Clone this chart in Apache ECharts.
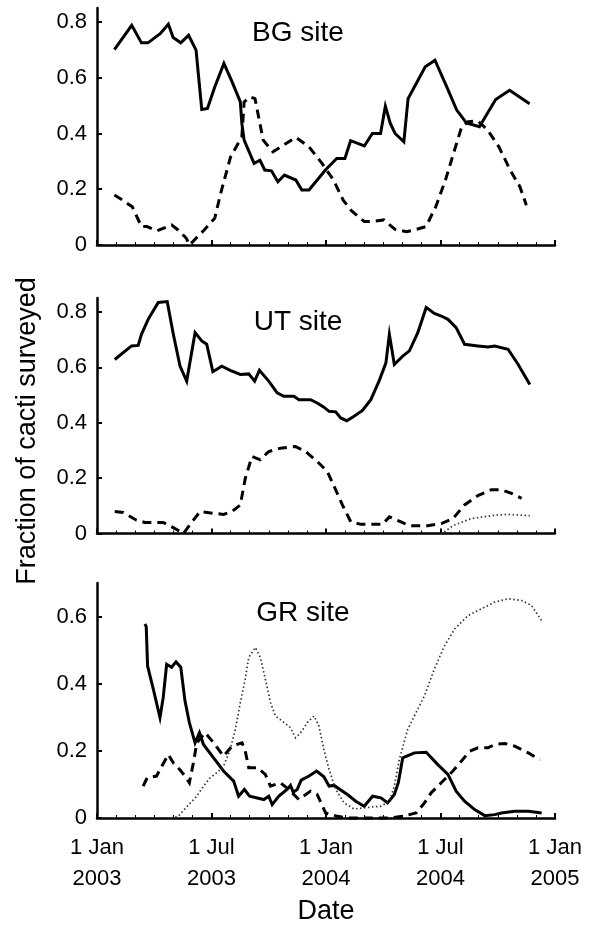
<!DOCTYPE html>
<html>
<head>
<meta charset="utf-8">
<script src="https://cdn.jsdelivr.net/npm/echarts@6/dist/echarts.min.js"></script>
<style>
html,body{margin:0;padding:0;background:#fff;}
#chart{width:600px;height:926px;}
</style>
</head>
<body>
<div id="chart"></div>
<script>
// x = months since 1 Jan 2003, y = fraction of cacti surveyed
const xTickLabels = ['1 Jan\n2003','1 Jul\n2003','1 Jan\n2004','1 Jul\n2004','1 Jan\n2005'];
const yTicksTop = [0, 0.2, 0.4, 0.6, 0.8];
const yTicksGR = [0, 0.2, 0.4, 0.6];
const siteNames = ['BG site', 'UT site', 'GR site'];

const bgSolid = [[0.91,0.701],[1.82,0.788],[2.33,0.725],[2.67,0.725],[3.31,0.758],[3.74,0.792],[3.99,0.744],[4.39,0.725],[4.80,0.752],[5.19,0.699],[5.49,0.486],[5.79,0.490],[6.17,0.567],[6.65,0.651],[7.08,0.585],[7.51,0.513],[7.59,0.436],[7.71,0.376],[8.23,0.293],[8.54,0.304],[8.79,0.269],[9.14,0.266],[9.48,0.227],[9.82,0.251],[10.42,0.233],[10.73,0.197],[11.11,0.197],[11.97,0.269],[12.56,0.310],[12.99,0.310],[13.29,0.374],[14.01,0.355],[14.43,0.400],[14.86,0.400],[15.11,0.498],[15.37,0.436],[15.62,0.400],[16.08,0.370],[16.30,0.525],[16.73,0.579],[17.20,0.639],[17.71,0.663],[18.34,0.565],[18.85,0.484],[19.36,0.438],[20.04,0.424],[20.89,0.522],[21.62,0.555],[22.67,0.507]];
const bgDashed = [[0.91,0.179],[1.34,0.161],[1.85,0.137],[2.33,0.066],[2.62,0.066],[3.14,0.051],[3.91,0.072],[4.25,0.054],[4.68,0.024],[4.85,0.0],[5.19,0.024],[5.62,0.054],[6.17,0.096],[6.48,0.185],[7.0,0.316],[7.59,0.388],[7.71,0.513],[8.02,0.531],[8.28,0.525],[8.71,0.376],[9.22,0.334],[10.42,0.386],[11.11,0.352],[11.79,0.293],[12.39,0.233],[12.90,0.161],[13.33,0.123],[14.01,0.084],[14.35,0.084],[15.03,0.090],[15.62,0.056],[16.22,0.048],[16.64,0.054],[17.24,0.066],[17.75,0.137],[18.26,0.233],[18.68,0.328],[19.11,0.424],[19.45,0.442],[19.96,0.445],[20.47,0.412],[21.06,0.352],[21.65,0.269],[22.16,0.209],[22.50,0.143]];

const utSolid = [[0.93,0.628],[1.81,0.677],[2.16,0.679],[2.33,0.719],[2.68,0.773],[3.21,0.834],[3.68,0.837],[4.0,0.719],[4.35,0.604],[4.70,0.550],[5.14,0.725],[5.49,0.695],[5.75,0.683],[6.07,0.584],[6.54,0.604],[6.98,0.589],[7.51,0.574],[7.95,0.576],[8.26,0.550],[8.51,0.589],[9.0,0.550],[9.44,0.508],[9.79,0.495],[10.32,0.495],[10.58,0.483],[11.19,0.483],[11.54,0.471],[11.89,0.456],[12.16,0.441],[12.51,0.439],[12.77,0.417],[13.09,0.407],[13.47,0.423],[13.91,0.444],[14.35,0.483],[14.79,0.552],[15.14,0.616],[15.32,0.719],[15.58,0.610],[16.02,0.640],[16.37,0.659],[16.81,0.725],[17.25,0.816],[17.68,0.794],[18.04,0.785],[18.39,0.773],[18.82,0.743],[19.26,0.683],[19.96,0.677],[20.49,0.673],[20.84,0.677],[21.54,0.665],[22.07,0.610],[22.68,0.538]];
const utDashed = [[0.93,0.079],[1.37,0.076],[2.07,0.048],[2.51,0.040],[3.04,0.040],[3.47,0.040],[4.0,0.021],[4.53,0.0],[5.05,0.048],[5.40,0.079],[6.11,0.073],[6.63,0.069],[7.07,0.079],[7.51,0.103],[7.77,0.199],[8.12,0.278],[8.56,0.266],[9.0,0.296],[9.61,0.308],[10.40,0.314],[10.93,0.296],[11.54,0.260],[12.07,0.224],[12.51,0.157],[12.86,0.103],[13.30,0.042],[13.82,0.033],[14.44,0.033],[14.96,0.033],[15.32,0.060],[15.93,0.042],[16.37,0.028],[16.98,0.028],[17.33,0.028],[18.04,0.036],[18.65,0.054],[19.26,0.103],[19.96,0.137],[20.67,0.158],[21.19,0.158],[21.72,0.145],[22.25,0.127]];
const utDotted = [[18.0,0.0],[18.2,0.006],[18.65,0.028],[19.61,0.054],[20.84,0.066],[21.54,0.069],[22.68,0.064]];

const grSolid = [[2.51,0.578],[2.58,0.570],[2.65,0.453],[2.95,0.384],[3.30,0.299],[3.47,0.359],[3.65,0.458],[3.91,0.449],[4.14,0.465],[4.39,0.449],[4.61,0.349],[4.84,0.284],[5.14,0.224],[5.37,0.254],[5.58,0.219],[6.11,0.179],[6.63,0.140],[7.16,0.110],[7.42,0.065],[7.72,0.085],[8.0,0.065],[8.74,0.055],[9.0,0.065],[9.18,0.040],[9.53,0.065],[9.96,0.085],[10.14,0.097],[10.28,0.077],[10.49,0.085],[10.70,0.113],[11.11,0.125],[11.51,0.140],[11.89,0.123],[12.16,0.095],[12.42,0.097],[13.12,0.070],[13.56,0.050],[14.0,0.035],[14.44,0.065],[14.88,0.060],[15.23,0.045],[15.58,0.070],[15.79,0.105],[16.02,0.179],[16.63,0.194],[17.25,0.196],[17.86,0.159],[18.39,0.130],[18.82,0.080],[19.26,0.050],[19.79,0.025],[20.32,0.007],[20.84,0.010],[21.19,0.015],[21.89,0.020],[22.60,0.020],[23.30,0.015]];
const grDashed = [[2.42,0.095],[2.63,0.120],[3.12,0.125],[3.39,0.154],[3.74,0.189],[4.0,0.164],[4.32,0.145],[4.61,0.125],[4.84,0.105],[5.05,0.164],[5.23,0.224],[5.67,0.254],[6.11,0.224],[6.63,0.184],[7.07,0.214],[7.60,0.224],[7.77,0.199],[7.95,0.150],[8.39,0.150],[8.82,0.130],[9.09,0.095],[9.61,0.105],[10.05,0.085],[10.58,0.055],[11.19,0.080],[11.54,0.070],[11.98,0.015],[12.60,0.005],[13.12,0.0],[14.53,0.0],[15.40,0.0],[16.02,0.005],[16.72,0.015],[17.16,0.045],[17.51,0.075],[18.04,0.105],[18.65,0.140],[19.09,0.169],[19.53,0.199],[19.96,0.209],[20.49,0.209],[20.84,0.219],[21.37,0.222],[21.89,0.214],[22.60,0.194],[23.21,0.174]];
const grDotted = [[3.9,0.0],[4.26,0.005],[4.70,0.033],[5.23,0.065],[5.58,0.095],[5.93,0.120],[6.28,0.135],[6.63,0.154],[6.98,0.204],[7.25,0.264],[7.51,0.344],[7.77,0.414],[7.95,0.478],[8.30,0.508],[8.56,0.478],[8.82,0.414],[9.09,0.344],[9.35,0.304],[9.70,0.289],[10.14,0.269],[10.40,0.239],[10.67,0.254],[11.02,0.284],[11.37,0.304],[11.63,0.274],[11.89,0.204],[12.16,0.145],[12.51,0.085],[12.95,0.045],[13.47,0.027],[14.0,0.030],[14.44,0.033],[14.88,0.035],[15.32,0.050],[15.58,0.095],[15.84,0.174],[16.28,0.264],[16.72,0.314],[17.16,0.364],[17.68,0.444],[18.21,0.513],[18.74,0.563],[19.44,0.603],[20.14,0.623],[20.84,0.643],[21.54,0.653],[22.25,0.648],[22.77,0.633],[23.30,0.588]];

const FONT = '"Liberation Sans", Arial, Helvetica, sans-serif';
const chart = echarts.init(document.getElementById('chart'), null, {renderer:'canvas'});

const grids = [
  {left:97, width:458, top:8, height:237},
  {left:97, width:458, top:298, height:235.5},
  {left:97, width:458, top:583, height:235}
];
const yMax = [0.85, 0.85, 0.7];
const yTicks = [yTicksTop, yTicksTop, yTicksGR];

function xAxis(i){
  return {
    gridIndex:i, type:'value', min:0, max:24, interval:6,
    axisLine:{onZero:false, lineStyle:{color:'#000', width:2.5}},
    axisTick:{inside:true, length:5, lineStyle:{color:'#000', width:2}},
    minorTick:{show:true, splitNumber:6, length:3, lineStyle:{color:'#000', width:1}},
    splitLine:{show:false}, minorSplitLine:{show:false},
    axisLabel: i===2 ? {
      show:true, color:'#000', fontSize:22, fontFamily:FONT, lineHeight:31, margin:14,
      formatter: v => xTickLabels[Math.round(v/6)]
    } : {show:false}
  };
}
function yAxis(i){
  return {
    gridIndex:i, type:'value', min:0, max:yMax[i],
    axisLine:{show:true, lineStyle:{color:'#000', width:2.5}},
    axisTick:{show:true, inside:true, length:5, lineStyle:{color:'#000', width:2}, customValues:yTicks[i]},
    splitLine:{show:false},
    axisLabel:{color:'#000', fontSize:22, fontFamily:FONT, margin:10, customValues:yTicks[i],
      formatter: v => (v===0 ? '0' : v.toFixed(1))}
  };
}
function line(i, data, kind){
  const style = {color:'#000', width:3, type:'solid', cap:'butt', join:'miter'};
  if (kind==='dashed'){ style.type=[9,6]; }
  if (kind==='dotted'){ style.type=[1.5,2.5]; style.width=1.7; style.color='#333'; }
  return {type:'line', xAxisIndex:i, yAxisIndex:i, data:data, symbol:'none', lineStyle:style, clip:false, silent:true};
}

chart.setOption({
  animation:false,
  backgroundColor:'#fff',
  grid: grids,
  xAxis: [0,1,2].map(xAxis),
  yAxis: [0,1,2].map(yAxis),
  series: [
    line(0,bgSolid,'solid'), line(0,bgDashed,'dashed'),
    line(1,utSolid,'solid'), line(1,utDashed,'dashed'), line(1,utDotted,'dotted'),
    line(2,grSolid,'solid'), line(2,grDashed,'dashed'), line(2,grDotted,'dotted')
  ],
  graphic: [
    {type:'text', x:298, y:33, style:{text:siteNames[0], fontSize:28, fontFamily:FONT, fill:'#000', align:'center', verticalAlign:'middle'}},
    {type:'text', x:298, y:322, style:{text:siteNames[1], fontSize:28, fontFamily:FONT, fill:'#000', align:'center', verticalAlign:'middle'}},
    {type:'text', x:303, y:613, style:{text:siteNames[2], fontSize:28, fontFamily:FONT, fill:'#000', align:'center', verticalAlign:'middle'}},
    {type:'text', x:326, y:912, style:{text:'Date', fontSize:27, fontFamily:FONT, fill:'#000', align:'center', verticalAlign:'middle'}},
    {type:'text', x:28, y:431, rotation:Math.PI/2, style:{text:'Fraction of cacti surveyed', fontSize:27, fontFamily:FONT, fill:'#000', align:'center', verticalAlign:'middle'}}
  ]
});
</script>
</body>
</html>
